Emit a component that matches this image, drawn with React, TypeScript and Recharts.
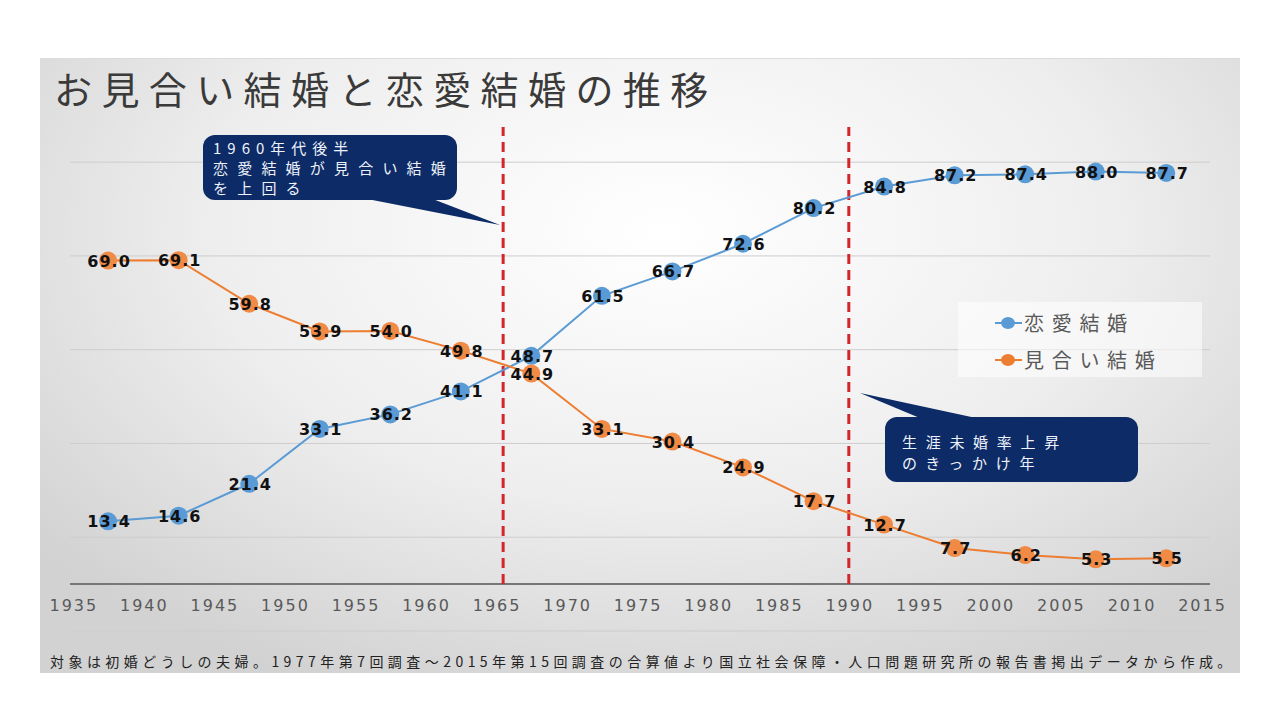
import React from "react";
import {
  LineChart,
  Line,
  XAxis,
  YAxis,
  ReferenceLine,
  Legend,
} from "recharts";

// survey periods (mid-year of each 5-year span)
const YEARS = [
  1937.5, 1942.5, 1947.5, 1952.5, 1957.5, 1962.5, 1967.5, 1972.5, 1977.5,
  1982.5, 1987.5, 1992.5, 1997.5, 2002.5, 2007.5, 2012.5,
];
const LOVE = [
  13.4, 14.6, 21.4, 33.1, 36.2, 41.1, 48.7, 61.5, 66.7, 72.6, 80.2, 84.8, 87.2,
  87.4, 88.0, 87.7,
];
const ARRANGED = [
  69.0, 69.1, 59.8, 53.9, 54.0, 49.8, 44.9, 33.1, 30.4, 24.9, 17.7, 12.7, 7.7,
  6.2, 5.3, 5.5,
];
const X_TICKS = [
  1935, 1940, 1945, 1950, 1955, 1960, 1965, 1970, 1975, 1980, 1985, 1990, 1995,
  2000, 2005, 2010, 2015,
];
const Y_GRID = [-10, 10, 30, 50, 70, 90];
const MARK_YEARS = [1965.5, 1990];

const BLUE = "#5B9BD5";
const ORANGE = "#ED7D31";
const JP = "'Noto Sans CJK JP', 'Noto Sans', sans-serif";

const data = YEARS.map((year, i) => ({
  year,
  love: LOVE[i],
  arranged: ARRANGED[i],
}));

const XTick = (props: any) => {
  const { x, y, payload } = props;
  return (
    <text
      x={x + 1}
      y={y}
      dy={-28}
      textAnchor='middle'
      fill='#595959'
      fontSize={16}
      letterSpacing={2}
      fontFamily='DejaVu Sans'
    >
      {payload.value}
    </text>
  );
};

const ValueLabel = (props: any) => {
  const { x, y, value } = props;
  return (
    <text
      x={x + 1}
      y={y}
      dy={6}
      textAnchor='middle'
      fill='#111'
      fontSize={16}
      letterSpacing={1}
      fontWeight='bold'
      fontFamily='DejaVu Sans'
    >
      {Number(value).toFixed(1)}
    </text>
  );
};

const LegendBox = (props: any) => {
  const { payload } = props;
  return (
    <div
      style={{
        width: 244,
        height: 75,
        background: "rgba(255,255,255,0.55)",
        boxSizing: "border-box",
        paddingLeft: 37,
        paddingTop: 2,
      }}
    >
      {(payload || []).map((p: any) => (
        <div
          key={p.value}
          style={{ display: "flex", alignItems: "center", height: 37 }}
        >
          <svg width={27} height={14}>
            <line x1={0} y1={7} x2={27} y2={7} stroke={p.color} strokeWidth={2} />
            <ellipse cx={13} cy={7} rx={7} ry={6} fill={p.color} />
          </svg>
          <span
            style={{
              marginLeft: 2,
              fontFamily: JP,
              fontSize: 20,
              letterSpacing: 7.7,
              color: "#595959",
              lineHeight: "24px",
            }}
          >
            {p.value}
          </span>
        </div>
      ))}
    </div>
  );
};

export default function App() {
  return (
    <div
      style={{
        position: "absolute",
        left: 0,
        top: 0,
        width: 1280,
        height: 720,
        background: "#fff",
        overflow: "hidden",
      }}
    >
      <div
        style={{
          position: "absolute",
          left: 40,
          top: 58,
          width: 1200,
          height: 614,
          borderTop: "1px solid #dcdcdc",
          background:
            "radial-gradient(ellipse 68% 80% at 52% 28%, #ffffff 0%, #eeeeee 55%, #d2d2d2 100%)",
        }}
      />
      <div
        style={{
          position: "absolute",
          left: 54,
          top: 60,
          fontFamily: JP,
          fontSize: 38,
          letterSpacing: 9.4,
          color: "#3a3a3a",
          whiteSpace: "nowrap",
        }}
      >
        お見合い結婚と恋愛結婚の推移
      </div>

      <div style={{ position: "absolute", left: 0, top: 0 }}>
        <LineChart
          width={1280}
          height={720}
          data={data}
          margin={{ top: 127, right: 70, left: 70, bottom: 59 }}
        >
          <XAxis
            dataKey='year'
            type='number'
            domain={[1934.8, 2015.6]}
            ticks={X_TICKS}
            axisLine={false}
            tickLine={false}
            tick={<XTick />}
            height={30}
            interval={0}
          />
          <YAxis type='number' domain={[-10, 97.5]} ticks={Y_GRID} hide />
          {Y_GRID.map((v) => (
            <ReferenceLine key={v} y={v} stroke='#cdcdcd' strokeWidth={1} />
          ))}
          <ReferenceLine y={0} stroke='#767676' strokeWidth={2} />
          {MARK_YEARS.map((yr) => (
            <ReferenceLine
              key={yr}
              segment={[
                { x: yr, y: 0 },
                { x: yr, y: 97.5 },
              ]}
              stroke='#D3262B'
              strokeWidth={3}
              strokeDasharray='10 6'
            />
          ))}
          <Legend
            layout='vertical'
            align='center'
            verticalAlign='middle'
            wrapperStyle={{ left: 958, top: 302, width: 244, height: 75 }}
            content={<LegendBox />}
          />
          <Line
            name='恋愛結婚'
            dataKey='love'
            stroke={BLUE}
            strokeWidth={2}
            dot={{ r: 9, fill: BLUE, stroke: "none" }}
            label={<ValueLabel />}
            isAnimationActive={false}
          />
          <Line
            name='見合い結婚'
            dataKey='arranged'
            stroke={ORANGE}
            strokeWidth={2}
            dot={{ r: 9, fill: "#F08A45", stroke: "none" }}
            label={<ValueLabel />}
            isAnimationActive={false}
          />
        </LineChart>
      </div>

      {/* callouts */}
      <svg
        width={1280}
        height={720}
        style={{ position: "absolute", left: 0, top: 0, pointerEvents: "none" }}
      >
        <g fill='#0D2B66'>
          <rect x={203} y={135} width={254} height={65} rx={12} />
          <polygon points='352,196 425,196 500,225' />
          <rect x={885} y={417} width={253} height={65} rx={12} />
          <polygon points='927,421 990,421 860,393' />
        </g>
        <g fill='#EEF2FA' fontFamily={JP} fontSize={15}>
          <text x={213} y={154} letterSpacing={6}>1960年代後半</text>
          <text x={213} y={174} letterSpacing={9.2}>恋愛結婚が見合い結婚</text>
          <text x={213} y={194} letterSpacing={9.2}>を上回る</text>
          <text x={902} y={448} letterSpacing={8.7}>生涯未婚率上昇</text>
          <text x={902} y={469} letterSpacing={8.7}>のきっかけ年</text>
        </g>
      </svg>

      <div
        style={{
          position: "absolute",
          left: 50,
          top: 651,
          fontFamily: JP,
          fontSize: 14,
          letterSpacing: 4.45,
          color: "#222",
          whiteSpace: "nowrap",
        }}
      >
        対象は初婚どうしの夫婦。1977年第7回調査～2015年第15回調査の合算値より国立社会保障・人口問題研究所の報告書掲出データから作成。
      </div>
    </div>
  );
}
